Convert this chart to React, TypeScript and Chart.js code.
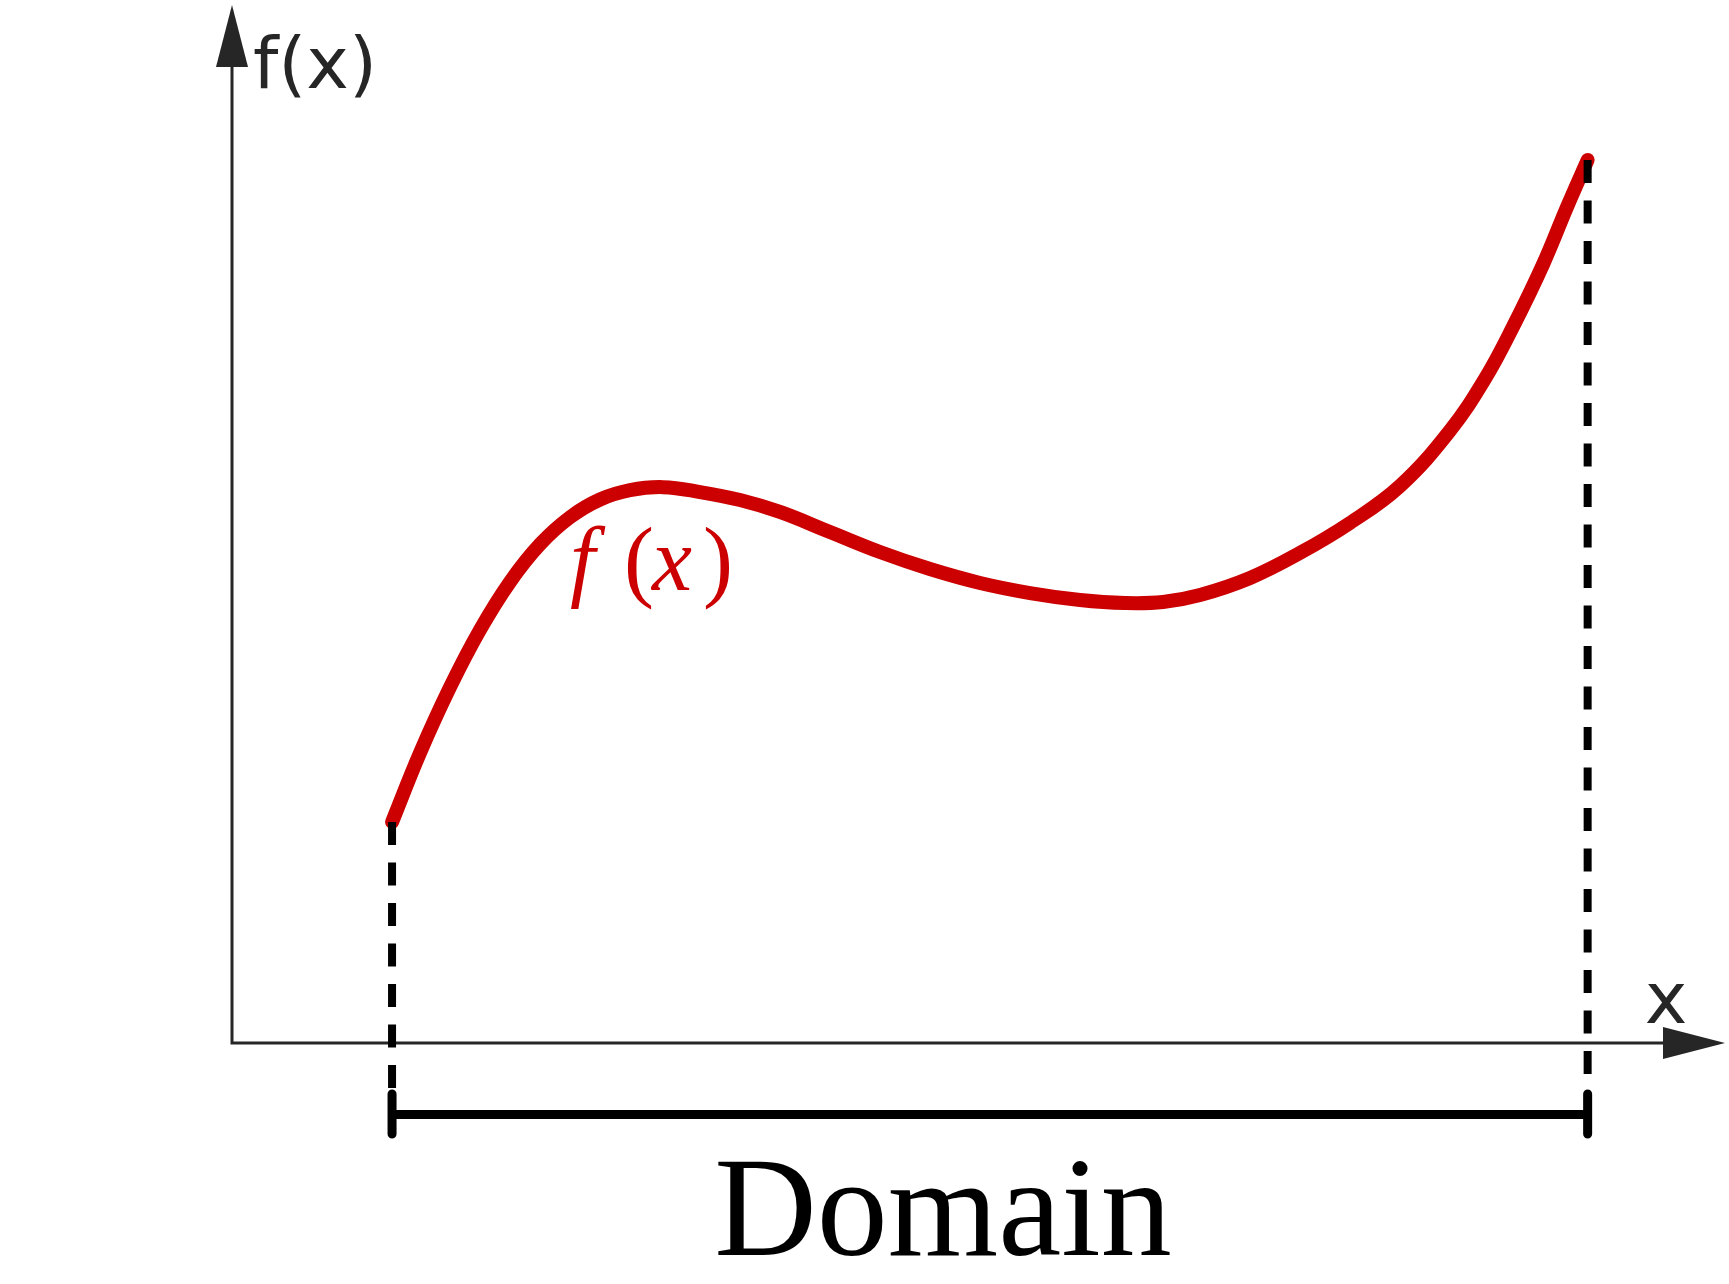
import React, { useEffect, useRef } from "react";
import { Chart, registerables } from "chart.js";

Chart.register(...registerables);

// ---- data (chart units) ----
const CURVE_X = [1.072, 1.259, 1.46, 1.661, 1.862, 2.063, 2.264, 2.465, 2.666, 2.887, 3.135, 3.403, 3.67, 4.005, 4.34, 4.675, 5.01, 5.345, 5.68, 5.981, 6.236, 6.484, 6.819, 7.153, 7.488, 7.823, 8.158, 8.393, 8.58, 8.781, 8.942, 9.08];
const CURVE_Y = [2.129, 2.794, 3.427, 3.98, 4.442, 4.804, 5.065, 5.236, 5.326, 5.355, 5.308, 5.231, 5.116, 4.923, 4.73, 4.566, 4.432, 4.335, 4.268, 4.239, 4.249, 4.316, 4.48, 4.721, 5.01, 5.366, 5.9, 6.4, 6.9, 7.5, 8.054, 8.507];
const DOMAIN_X = [1.072, 9.08];
const DASH_BOTTOM_Y = [-0.434, -0.318];
const BRACKET_Y = [-0.689];
const BRACKET_TICK_Y = [-0.491, -0.877];
const AXIS_X_RANGE = [0, 10];
const AXIS_Y_RANGE = [-2.3, 10];

// label anchors (chart units)
const AXIS_LABEL_Y = { text: "f(x)", x: 0.14, y: 9.2 };
const AXIS_LABEL_X = { text: "x", x: 9.605, y: 0.193 };
const CURVE_LABEL = { x: 2.277, y: 4.364 };
const DOMAIN_LABEL = { text: "Domain", x: 4.762, y: -2.042 };

const RED = "#cc0000";
const AXIS_COLOR = "#262626";

const axesPlugin = {
  id: "axesPlugin",
  beforeDatasetsDraw(chart: any) {
    const { ctx, scales } = chart;
    const xs = scales.x;
    const ys = scales.y;
    const x0 = xs.getPixelForValue(0);
    const y0 = ys.getPixelForValue(0);
    const xEnd = xs.getPixelForValue(AXIS_X_RANGE[1]);
    const yTop = ys.getPixelForValue(AXIS_Y_RANGE[1]);
    const headLen = 62;
    const headHalf = 16;
    ctx.save();
    ctx.strokeStyle = AXIS_COLOR;
    ctx.fillStyle = AXIS_COLOR;
    ctx.lineWidth = 3;
    ctx.lineCap = "butt";
    ctx.beginPath();
    ctx.moveTo(x0, yTop + headLen);
    ctx.lineTo(x0, y0);
    ctx.lineTo(xEnd - headLen, y0);
    ctx.stroke();
    // y arrow
    ctx.beginPath();
    ctx.moveTo(x0, yTop);
    ctx.lineTo(x0 - headHalf, yTop + headLen);
    ctx.lineTo(x0 + headHalf, yTop + headLen);
    ctx.closePath();
    ctx.fill();
    // x arrow
    ctx.beginPath();
    ctx.moveTo(xEnd, y0);
    ctx.lineTo(xEnd - headLen, y0 - headHalf);
    ctx.lineTo(xEnd - headLen, y0 + headHalf);
    ctx.closePath();
    ctx.fill();
    ctx.restore();
  },
  afterDraw(chart: any) {
    const { ctx, scales } = chart;
    const xs = scales.x;
    const ys = scales.y;
    ctx.save();
    ctx.textBaseline = "alphabetic";
    // axis labels
    ctx.fillStyle = AXIS_COLOR;
    ctx.font = '72px "DejaVu Sans"';
    ctx.textAlign = "left";
    ctx.fillText(AXIS_LABEL_Y.text, xs.getPixelForValue(AXIS_LABEL_Y.x), ys.getPixelForValue(AXIS_LABEL_Y.y));
    ctx.textAlign = "center";
    ctx.fillText(AXIS_LABEL_X.text, xs.getPixelForValue(AXIS_LABEL_X.x), ys.getPixelForValue(AXIS_LABEL_X.y));
    // curve label f(x)
    const lx = xs.getPixelForValue(CURVE_LABEL.x);
    const ly = ys.getPixelForValue(CURVE_LABEL.y);
    ctx.fillStyle = RED;
    ctx.textAlign = "left";
    ctx.font = 'italic 90px "Liberation Serif"';
    ctx.fillText("f", lx - 2, ly);
    ctx.fillText("x", lx + 80, ly);
    ctx.font = '90px "Liberation Serif"';
    ctx.fillText("(", lx + 52, ly);
    ctx.fillText(")", lx + 131, ly);
    // Domain
    ctx.fillStyle = "#000000";
    ctx.textAlign = "center";
    ctx.font = '142px "Liberation Serif"';
    ctx.fillText(DOMAIN_LABEL.text, xs.getPixelForValue(DOMAIN_LABEL.x), ys.getPixelForValue(DOMAIN_LABEL.y));
    ctx.restore();
  },
};

function seg(label: string, pts: { x: number; y: number }[], width: number, cap: string, dash?: number[]) {
  return {
    label,
    data: pts,
    borderColor: "#000000",
    borderWidth: width,
    borderDash: dash || [],
    borderCapStyle: cap,
    pointRadius: 0,
    order: 0,
    clip: false,
  } as any;
}

export default function App() {
  const canvasRef = useRef<HTMLCanvasElement | null>(null);
  useEffect(() => {
    if (!canvasRef.current) return;
    const curve = CURVE_X.map((x, i) => ({ x, y: CURVE_Y[i] }));
    const chart = new Chart(canvasRef.current, {
      type: "line",
      data: {
        datasets: [
          seg("dashL", [
            { x: DOMAIN_X[0], y: CURVE_Y[0] },
            { x: DOMAIN_X[0], y: DASH_BOTTOM_Y[0] },
          ], 8, "butt", [23, 17.5]),
          seg("dashR", [
            { x: DOMAIN_X[1], y: CURVE_Y[CURVE_Y.length - 1] },
            { x: DOMAIN_X[1], y: DASH_BOTTOM_Y[1] },
          ], 8, "butt", [23, 17.5]),
          seg("bracket", [
            { x: DOMAIN_X[0], y: BRACKET_Y[0] },
            { x: DOMAIN_X[1], y: BRACKET_Y[0] },
          ], 9, "butt"),
          seg("tickL", [
            { x: DOMAIN_X[0], y: BRACKET_TICK_Y[0] },
            { x: DOMAIN_X[0], y: BRACKET_TICK_Y[1] },
          ], 9, "round"),
          seg("tickR", [
            { x: DOMAIN_X[1], y: BRACKET_TICK_Y[0] },
            { x: DOMAIN_X[1], y: BRACKET_TICK_Y[1] },
          ], 9, "round"),
          {
            label: "f(x)",
            data: curve,
            borderColor: RED,
            borderWidth: 14,
            borderCapStyle: "round",
            borderJoinStyle: "round",
            tension: 0.4,
            pointRadius: 0,
            order: 1,
            clip: false,
          } as any,
        ],
      },
      options: {
        animation: false,
        responsive: true,
        maintainAspectRatio: false,
        layout: { padding: { left: 232, right: 4, top: 5, bottom: 2.26 } },
        plugins: { legend: { display: false }, tooltip: { enabled: false } },
        events: [],
        scales: {
          x: { type: "linear", min: AXIS_X_RANGE[0], max: AXIS_X_RANGE[1], display: false },
          y: { type: "linear", min: AXIS_Y_RANGE[0], max: AXIS_Y_RANGE[1], display: false },
        },
      },
      plugins: [axesPlugin],
    });
    return () => chart.destroy();
  }, []);
  return (
    <div style={{ position: "fixed", left: 0, top: 0, width: "1729px", height: "1284px", background: "#fff" }}>
      <canvas ref={canvasRef} />
    </div>
  );
}
